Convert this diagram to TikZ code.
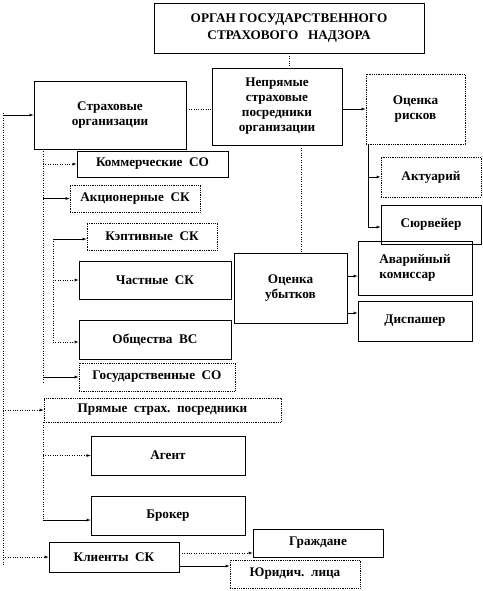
\documentclass[tikz,border=0pt]{standalone}
\usepackage{fontspec}
\setmainfont{Liberation Serif}
\tikzset{
  box/.style={draw, line width=0.8pt, font=\fontsize{13.2}{15}\selectfont\bfseries, align=center, inner sep=1pt},
  dbox/.style={box, densely dotted},
  >=latex
}
\begin{document}
\begin{tikzpicture}[x=1pt, y=-1pt]
                \useasboundingbox (0,0) rectangle (482,591);
                \node[box, minimum width=270pt, minimum height=50pt] (organ) at (289,28) {ОРГАН ГОСУДАРСТВЕННОГО\\[2pt]СТРАХОВОГО~~~НАДЗОРА};
                \node[box, minimum width=130pt, minimum height=77pt] (indirect) at (277,106.5) {Непрямые\\страховые\\посредники\\организации};
                \node[box, minimum width=152pt, minimum height=68pt] (insorg) at (110,115) {Страховые\\организации};
                \node[dbox, minimum width=99pt, minimum height=70pt] (riskeval) at (415.5,109) {Оценка\\рисков};
                \node[box, minimum width=151pt, minimum height=26pt] (commercial) at (152.5,164) {Коммерческие~~СО};
                \node[dbox, minimum width=130pt, minimum height=27pt] (joint) at (135,198.5) {Акционерные~~СК};
                \node[dbox, minimum width=130pt, minimum height=27pt] (captive) at (152,236.5) {Кэптивные~~СК};
                \node[box, minimum width=152pt, minimum height=38pt] (private) at (155,280) {Частные~~СК};
                \node[box, minimum width=152pt, minimum height=39pt] (mutual) at (155,339.5) {Общества~~ВС};
                \node[dbox, minimum width=156pt, minimum height=28pt] (state) at (157,377) {Государственные~~СО};
                \node[dbox, minimum width=237pt, minimum height=24pt] (direct) at (162.5,410) {Прямые~~страх.~~посредники};
                \node[box, minimum width=154pt, minimum height=39pt] (agent) at (168,455.5) {Агент};
                \node[box, minimum width=154pt, minimum height=39pt] (broker) at (168,515.5) {Брокер};
                \node[box, minimum width=130pt, minimum height=30pt] (clients) at (114,557) {Клиенты~~СК};
                \node[box, minimum width=130pt, minimum height=28pt] (citizens) at (318,543) {Граждане};
                \node[dbox, minimum width=130pt, minimum height=28pt] (legal) at (295,574) {Юридич.~~лица};
                \node[dbox, minimum width=100pt, minimum height=40pt] (actuary) at (431,177) {Актуарий};
                \node[box, minimum width=100pt, minimum height=39pt] (surveyor) at (431,224.5) {Сюрвейер};
                \node[box, minimum width=113pt, minimum height=70pt] (losseval) at (290.5,288) {Оценка\\убытков};
                \node[box, minimum width=114pt, minimum height=54pt, align=left] (adjuster) at (415,268) {Аварийный\\комиссар};
                \node[box, minimum width=114pt, minimum height=40pt] (dispatcher) at (415,321) {Диспашер};
                \coordinate (lefttop) at (3,113);
                \coordinate (leftbot) at (3,566);
                \coordinate (railtop) at (43,149);
                \coordinate (railbot) at (43,384);
                \coordinate (subtop) at (53,239);
                \coordinate (subbot) at (53,342);
                \coordinate (directbot) at (43,520);
                \coordinate (riskrail) at (368,227);
                \draw[dotted] (organ.south) -- (organ.south |- indirect.north);
                \draw[dotted] (insorg.east |- riskeval.west) -- (indirect.west |- riskeval.west);
                \draw[->] (indirect.east |- riskeval.west) -- (riskeval.west);
                \draw[dotted] (lefttop) -- (leftbot);
                \draw[->] (lefttop |- insorg.west) -- (insorg.west);
                \draw[->, dotted] (lefttop |- direct.west) -- (direct.west);
                \draw[->, dotted] (lefttop |- clients.west) -- (clients.west);
                \draw[dotted] (railtop) -- (railbot);
                \draw[->, dotted] (railtop |- commercial.west) -- (commercial.west);
                \draw[->] (railtop |- joint.west) -- (joint.west);
                \draw[dotted] (subtop) -- (subbot);
                \draw[->] (subtop) -- (subtop -| captive.west);
                \draw[->, dotted] (subtop |- private.west) -- (private.west);
                \draw[->, dotted] (subbot) -- (subbot -| mutual.west);
                \draw[->] (railtop |- state.west) -- (state.west);
                \draw[dotted] (direct.south -| railtop) -- (directbot);
                \draw[->, dotted] (railtop |- agent.west) -- (agent.west);
                \draw[->] (directbot) -- (directbot -| broker.west);
                \draw[->, dotted] ([yshift=4pt]clients.east) -- ([yshift=4pt]clients.east -| citizens.west);
                \draw[->] ([yshift=-9pt]clients.east) -- ([yshift=-9pt]clients.east -| legal.west);
                \draw (riskeval.south -| riskrail) -- (riskrail);
                \draw[->] (riskrail |- actuary.west) -- (actuary.west);
                \draw[->] (riskrail) -- (riskrail -| surveyor.west);
                \draw[dotted] ([xshift=11pt]losseval.north |- indirect.south) -- ([xshift=11pt]losseval.north);
                \draw[->] ([yshift=-8pt]adjuster.west -| losseval.east) -- ([yshift=-8pt]adjuster.west);
                \draw[->] ([yshift=8pt]dispatcher.west -| losseval.east) -- ([yshift=8pt]dispatcher.west);
            \end{tikzpicture}
\end{document}
